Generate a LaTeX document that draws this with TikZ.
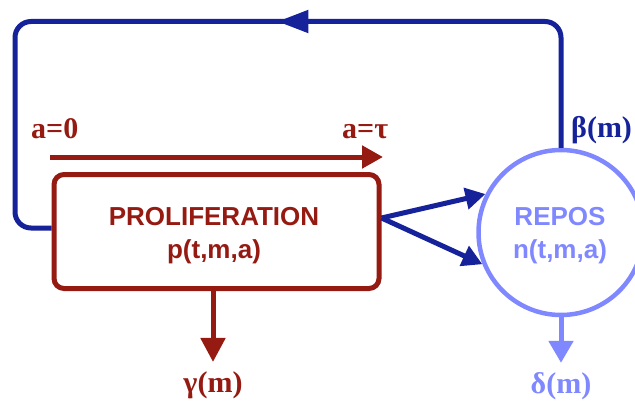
\documentclass[tikz,border=0pt]{standalone}
\usepackage{fontspec}
\setmainfont{Liberation Serif}
\setsansfont{Liberation Sans}
\usetikzlibrary{arrows.meta,decorations.markings,calc}
\definecolor{dred}{HTML}{951A12}
\definecolor{dblue}{HTML}{15229A}
\definecolor{lblue}{HTML}{8088FF}
\begin{document}
\begin{tikzpicture}[x=1pt,y=-1pt,
  redline/.style={draw=dred, line width=5pt},
  blueline/.style={draw=dblue, line width=5pt},
  boxtext/.style={font=\sffamily\bfseries\fontsize{26}{33}\selectfont, align=center, inner sep=0pt},
  serlabel/.style={font=\bfseries\fontsize{30}{32}\selectfont, inner sep=0pt},
]
\useasboundingbox (0,0) rectangle (635,404);
\clip (0,0) rectangle (635,404);

% proliferation box
\node[redline, rounded corners=10pt, minimum width=325pt, minimum height=114pt] (pro) at (216.5,231.5) {};
\node[boxtext, text=dred] (protext) at (214,236) {PROLIFERATION\\p(t,m,a)};

% repos circle
\node[circle, draw=lblue, line width=4.5pt, minimum size=165pt, inner sep=0pt] (rep) at (561,232.5) {};
\node[boxtext, text=lblue] (reptext) at (560,236) {REPOS\\n(t,m,a)};

% age arrow
\coordinate (a0) at (50,157);
\coordinate (atau) at (383,157);
\draw[redline, -{Triangle[length=21pt,width=22pt]}] (a0) -- (atau);
\node[serlabel, text=dred, anchor=base west] (la0) at (31,138) {a=0};
\node[serlabel, text=dred, anchor=base west] (latau) at (342,138) {a=τ};

% feedback loop
\coordinate (loopin) at ($(pro.west)+(0,-3.5)$);
\draw[blueline, rounded corners=16pt,
  postaction={decorate, decoration={markings, mark=at position 403pt with {\arrow{Triangle[length=31pt,width=22pt]}}}}]
  (rep.north) -- (561,21.5) -- (15,21.5) -- (15,228) -- (loopin);
\node[serlabel, text=dblue, anchor=base west] (lbeta) at (571,137) {β(m)};

% fork to repos
\coordinate (fork) at ($(pro.east)+(0,-13.5)$);
\draw[blueline, -{Triangle[length=20pt,width=21pt]}] (fork) -- (rep.153);
\draw[blueline, -{Triangle[length=20pt,width=21pt]}] (fork) -- (rep.202);

% death / loss
\node[serlabel, text=dred, anchor=base] (gam) at (213,392) {γ(m)};
\draw[redline, -{Triangle[length=24pt,width=24pt]}] (gam.north |- pro.south) -- ([yshift=9pt]gam.north);
\node[serlabel, text=lblue, anchor=base] (del) at (561,393) {δ(m)};
\draw[draw=lblue, line width=5pt, -{Triangle[length=22pt,width=24pt]}] (rep.south) -- ([yshift=9pt]del.north);
\end{tikzpicture}
\end{document}
